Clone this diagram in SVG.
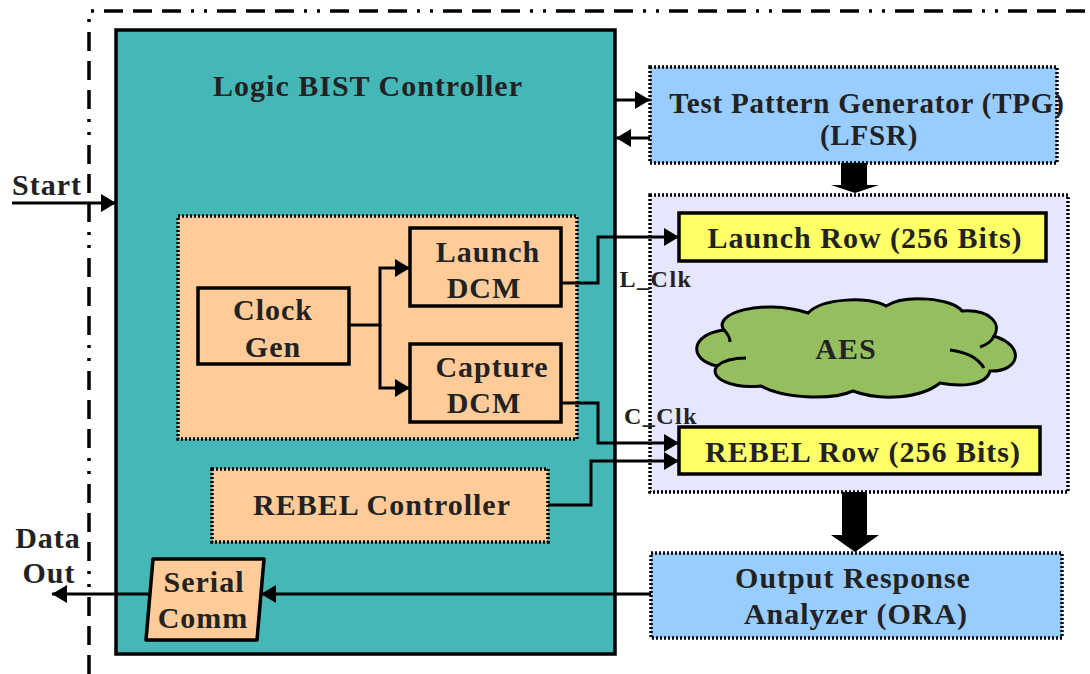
<svg xmlns="http://www.w3.org/2000/svg" width="1090" height="674" viewBox="0 0 1090 674">
  <style>
    .t { font-family: "Liberation Serif", "Times New Roman", serif; font-weight: bold; fill: #222; text-anchor: middle; font-size: 30px; letter-spacing: 1px; }
    .tpg { font-size: 29px; letter-spacing: 0.8px; }
    .sm { font-size: 24px; letter-spacing: 1.5px; }
    .solid { stroke: #000; stroke-width: 3.5; }
    .dotted { stroke: #000; stroke-width: 3.5; stroke-dasharray: 2 2; }
    .wire { fill: none; stroke: #000; stroke-width: 3; }
    .cl { fill: none; stroke: #000; stroke-width: 3; }
  </style>
  <defs>
    <marker id="arr" markerUnits="userSpaceOnUse" markerWidth="16" markerHeight="19" refX="15" refY="9" orient="auto">
      <path d="M0,0 L15,9 L0,18 Z" fill="#000"/>
    </marker>
  </defs>

  <rect width="1090" height="674" fill="#fff"/>

  <!-- chip boundary (dash-dot) -->
  <path d="M89,674 V11 H1090" fill="none" stroke="#000" stroke-width="3.5" stroke-dasharray="19 10 19 10 19 10 3 10 3 10"/>

  <!-- Logic BIST Controller -->
  <g id="bist-controller">
    <rect x="116" y="30" width="499" height="624" fill="#46B7B7" class="solid"/>
    <text class="t" x="368" y="96">Logic BIST Controller</text>
  </g>

  <!-- clock domain block -->
  <g id="clock-block">
    <rect x="178" y="216" width="399" height="223" fill="#FFCC99" class="dotted"/>
  </g>

  <g id="clock-gen">
    <rect x="198" y="288" width="151" height="76" fill="#FFCC99" class="solid"/>
    <text class="t" x="273" y="320">Clock</text>
    <text class="t" x="273" y="357">Gen</text>
  </g>

  <g id="launch-dcm">
    <rect x="410" y="228" width="151" height="78" fill="#FFCC99" class="solid"/>
    <text class="t" x="488" y="262">Launch</text>
    <text class="t" x="484" y="298">DCM</text>
  </g>

  <g id="capture-dcm">
    <rect x="410" y="344" width="151" height="78" fill="#FFCC99" class="solid"/>
    <text class="t" x="492" y="377">Capture</text>
    <text class="t" x="484" y="413">DCM</text>
  </g>

  <g id="rebel-controller">
    <rect x="212" y="469" width="336" height="73" fill="#FFCC99" class="dotted"/>
    <text class="t" x="382" y="515">REBEL Controller</text>
  </g>

  <g id="serial-comm">
    <polygon points="153,559 264,559 257,640 146,640" fill="#FFCC99" class="solid" stroke-linejoin="round"/>
    <text class="t" x="204" y="592">Serial</text>
    <text class="t" x="203" y="628">Comm</text>
  </g>

  <g id="tpg">
    <rect x="650" y="67" width="407" height="96" fill="#99CCFF" class="dotted"/>
    <text class="t tpg" x="867" y="113">Test Pattern Generator (TPG)</text>
    <text class="t tpg" x="869" y="145">(LFSR)</text>
  </g>

  <g id="cut">
    <rect x="650" y="195" width="418" height="297" fill="#E6E6FF" class="dotted"/>
  </g>

  <g id="launch-row">
    <rect x="679" y="213" width="367" height="48" fill="#FFFF66" class="solid"/>
    <text class="t" x="865" y="248">Launch Row (256 Bits)</text>
  </g>

  <g id="aes">
    <path d="M724,330 C712,314 760,298 808,313 C822,298 870,296 886,306 C905,294 952,298 962,311 C990,309 1002,324 994,336 C1026,346 1020,372 990,371 C986,386 960,387 940,383 C920,399 880,401 853,391 C830,401 782,398 761,386 C732,389 708,378 717,366 C688,360 690,334 724,330 Z" fill="#95BF5F" stroke="#000" stroke-width="3"/>
    <path class="cl" d="M724,330 C728,334 730,338 730,342"/>
    <path class="cl" d="M717,366 C724,360 736,358 746,358"/>
    <path class="cl" d="M994,336 C992,341 986,345 980,347"/>
    <path class="cl" d="M950,350 C966,352 978,358 984,368"/>
    <text class="t" x="846" y="359">AES</text>
  </g>

  <g id="rebel-row">
    <rect x="679" y="427" width="361" height="47" fill="#FFFF66" class="solid"/>
    <text class="t" x="863" y="462">REBEL Row (256 Bits)</text>
  </g>

  <g id="ora">
    <rect x="651" y="553" width="411" height="85" fill="#99CCFF" class="dotted"/>
    <text class="t" x="853" y="588">Output Response</text>
    <text class="t" x="856" y="624">Analyzer (ORA)</text>
  </g>

  <!-- signal labels -->
  <g id="labels">
    <text class="t" x="47" y="195">Start</text>
    <text class="t" x="48" y="548">Data</text>
    <text class="t" x="49" y="583">Out</text>
    <text class="t sm" x="656" y="287">L_Clk</text>
    <text class="t sm" x="661" y="424">C_Clk</text>
  </g>

  <!-- connectors -->
  <g id="connectors">
    <line x1="12" y1="203" x2="116" y2="203" class="wire" marker-end="url(#arr)"/>
    <polyline points="349,325 380,325 380,268 410,268" class="wire" marker-end="url(#arr)"/>
    <polyline points="380,325 380,388 410,388" class="wire" marker-end="url(#arr)"/>
    <polyline points="561,283 598,283 598,237 679,237" class="wire" marker-end="url(#arr)"/>
    <polyline points="561,403 598,403 598,443 679,443" class="wire" marker-end="url(#arr)"/>
    <polyline points="548,505 591,505 591,461 679,461" class="wire" marker-end="url(#arr)"/>
    <line x1="615" y1="100" x2="650" y2="100" class="wire" marker-end="url(#arr)"/>
    <line x1="650" y1="138" x2="616" y2="138" class="wire" marker-end="url(#arr)"/>
    <line x1="651" y1="594" x2="261" y2="594" class="wire" marker-end="url(#arr)"/>
    <line x1="150" y1="594" x2="52" y2="594" class="wire" marker-end="url(#arr)"/>
    <!-- block arrows -->
    <polygon points="841,163 867,163 867,185 879,185 855,193 831,185 841,185" fill="#000"/>
    <polygon points="842,492 867,492 867,535 879,535 855,552 831,535 842,535" fill="#000"/>
  </g>
</svg>
